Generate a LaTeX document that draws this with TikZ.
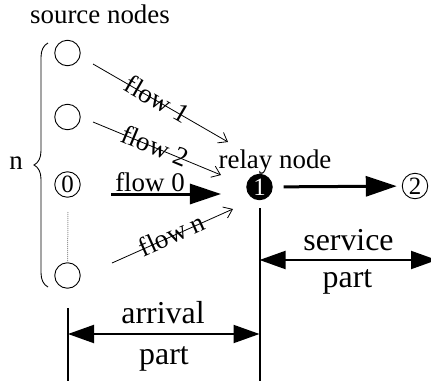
\documentclass[tikz,border=0pt]{standalone}
\usepackage{fontspec}
\setmainfont{Liberation Serif}
\usetikzlibrary{arrows.meta,decorations.pathreplacing}
\begin{document}
\begin{tikzpicture}[x=1bp,y=-1bp,
  src/.style={circle,draw,line width=0.9bp,minimum size=25.5bp,inner sep=0pt,font=\fontsize{25}{25}\selectfont},
  lbl/.style={font=\fontsize{27}{27}\selectfont,inner sep=0pt},
  big/.style={font=\fontsize{32}{32}\selectfont,inner sep=0pt},
  thinarrow/.style={line width=0.8bp,-{Straight Barb[length=8bp,width=12bp]}},
  fat/.style={line width=3bp,-{Triangle[length=31bp,width=20bp]}},
  dimarrow/.style={line width=2bp,{Triangle[length=26bp,width=18bp]}-{Triangle[length=26bp,width=18bp]}},
  vline/.style={line width=2bp},
  flowlbl/.style={lbl,sloped,anchor=base}
]
\useasboundingbox (0,0) rectangle (431,381);
\clip (0,0) rectangle (431,381);

% nodes
\node[src] (s1) at (67.5,53) {};
\node[src] (s2) at (67.5,117) {};
\node[src] (s0) at (67.5,184.5) {0};
\node[src] (sn) at (67.5,275.5) {};
\node[src,fill=black,text=white] (r) at (259.5,187) {1};
\node[src] (d) at (415,186) {2};

% texts
\node[lbl,anchor=base] (title) at (100,23) {source nodes};
\node[lbl,anchor=base] (relay) at (275,168) {relay node};
\node[lbl] (n) at (16,163) {n};
\node[big,anchor=base] (arr) at (163,323) {arrival};
\node[big,anchor=base] (arrp) at (164,364) {part};
\node[big,anchor=base] (serv) at (348.5,250) {service};
\node[big,anchor=base] (servp) at (347.5,287) {part};

% brace and dotted
\draw[line width=0.9bp,decorate,decoration={brace,amplitude=14bp}] (48,287) -- (48,43);
\coordinate (dt) at (68,212);
\draw[gray!80,line width=1bp,dash pattern=on 1bp off 1bp] (dt) -- (sn.north);

% flow coordinates
\coordinate (f1a) at (93,64);  \coordinate (f1b) at (228,142);
\coordinate (f2a) at (93,122); \coordinate (f2b) at (221,175);
\coordinate (fna) at (112,263); \coordinate (fnb) at (233,209);
\coordinate (f0a) at (111,194); \coordinate (f0b) at (221,194);

\draw[thinarrow] (f1a) -- node[flowlbl,pos=0.47] {\raisebox{-7.5bp}{flow 1}} (f1b);
\draw[thinarrow] (f2a) -- node[flowlbl,pos=0.48] {\raisebox{-7.5bp}{flow 2}} (f2b);
\draw[thinarrow] (fna) -- node[flowlbl,pos=0.5] {\raisebox{-7.5bp}{flow n}} (fnb);
\draw[fat] (f0a) -- (f0b);
\node[lbl,anchor=base] (f0l) at (150,191) {flow 0};

% relay to destination
\draw[fat,shorten <=11bp,shorten >=5bp] (r) -- (d);

% dimension lines
\coordinate (v1t) at (68,308); \coordinate (v1b) at (68,381);
\coordinate (v2t) at (259.5,208); \coordinate (v2b) at (259.5,381);
\draw[vline] (v1t) -- (v1b);
\draw[vline] (v2t) -- (v2b);
\coordinate (a1) at (68,334); \coordinate (a2) at (259.5,334);
\draw[dimarrow] (a1) -- (a2);
\coordinate (b1) at (259.5,260); \coordinate (b2) at (437,260);
\draw[dimarrow] (b1) -- (b2);
\end{tikzpicture}
\end{document}
